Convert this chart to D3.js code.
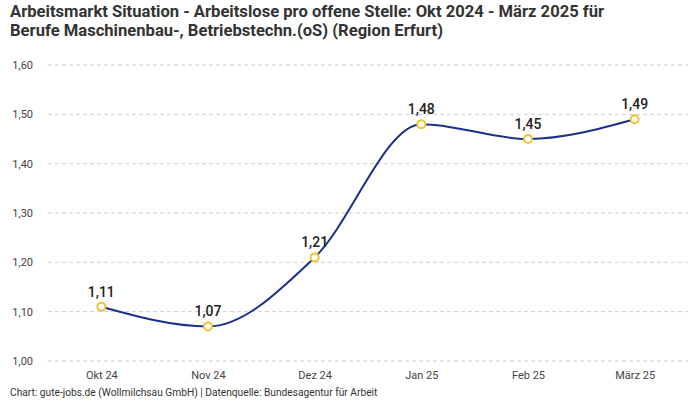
<!DOCTYPE html>
<html>
<head>
<meta charset="utf-8">
<script src="https://cdn.jsdelivr.net/npm/d3@7"></script>
<style>
  body { margin: 0; background: #fff; }
  text { font-family: "Roboto", "Noto Sans", sans-serif; }
</style>
</head>
<body>
<div id="plot"></div>
<script>
// Data
const months = ["Okt 24", "Nov 24", "Dez 24", "Jan 25", "Feb 25", "März 25"];
const values = [1.11, 1.07, 1.21, 1.48, 1.45, 1.49];
const yTicks = [1.00, 1.10, 1.20, 1.30, 1.40, 1.50, 1.60];

const titleLines = [
  "Arbeitsmarkt Situation - Arbeitslose pro offene Stelle: Okt 2024 - März 2025 für",
  "Berufe Maschinenbau-, Betriebstechn.(oS) (Region Erfurt)"
];
const footer = "Chart: gute-jobs.de (Wollmilchsau GmbH) | Datenquelle: Bundesagentur für Arbeit";

// Parameters
const svg_w = 700;
const svg_h = 400;
const margin = {top: 65, right: 12, bottom: 39, left: 48};

const fmt = v => d3.format(".2f")(v).replace(".", ",");

const svg = d3.select("div#plot")
  .append("svg")
    .attr("width", svg_w)
    .attr("height", svg_h);

svg.append("rect")
    .attr("width", svg_w)
    .attr("height", svg_h)
    .attr("fill", "#fff");

const xScale = d3.scalePoint()
    .domain(months)
    .range([margin.left, svg_w - margin.right])
    .padding(0.5);

const yScale = d3.scaleLinear()
    .domain([1.0, 1.6])
    .range([svg_h - margin.bottom, margin.top]);

// Title
svg.append("g").selectAll("text")
  .data(titleLines)
  .join("text")
    .attr("x", 10)
    .attr("y", (d, i) => 17 + i * 19)
    .style("font-size", "16.6px")
    .style("font-weight", "bold")
    .attr("fill", "#333")
    .text(d => d);

// Grid lines
svg.append("g").selectAll("line")
  .data(yTicks)
  .join("line")
    .attr("x1", margin.left)
    .attr("x2", svg_w - margin.right)
    .attr("y1", d => yScale(d))
    .attr("y2", d => yScale(d))
    .attr("stroke", "#cfcfcf")
    .attr("stroke-dasharray", "4,3");

// Y axis
const yAxis = d3.axisLeft(yScale)
    .tickValues(yTicks)
    .tickFormat(fmt)
    .tickSize(0)
    .tickPadding(15);

const gy = svg.append("g")
    .attr("transform", `translate(${margin.left}, 0)`)
    .call(yAxis);
gy.select(".domain").remove();
gy.selectAll("text")
    .style("font-size", "11px")
    .attr("fill", "#444");

// X axis
const xAxis = d3.axisBottom(xScale)
    .tickSize(0)
    .tickPadding(10);

const gx = svg.append("g")
    .attr("transform", `translate(0, ${svg_h - margin.bottom})`)
    .call(xAxis);
gx.select(".domain").remove();
gx.selectAll("text")
    .style("font-size", "11px")
    .attr("fill", "#444");

// Line
const line = d3.line()
    .x((d, i) => xScale(months[i]))
    .y(d => yScale(d))
    .curve(d3.curveMonotoneX);

svg.append("path")
    .datum(values)
    .attr("d", line)
    .attr("fill", "none")
    .attr("stroke", "#1b2f8e")
    .attr("stroke-width", 2);

// Points
svg.append("g").selectAll("circle")
  .data(values)
  .join("circle")
    .attr("cx", (d, i) => xScale(months[i]))
    .attr("cy", d => yScale(d))
    .attr("r", 4)
    .attr("fill", "#fff")
    .attr("stroke", "#f7c12a")
    .attr("stroke-width", 2);

// Value labels
svg.append("g").selectAll("text")
  .data(values)
  .join("text")
    .attr("x", (d, i) => xScale(months[i]))
    .attr("y", d => yScale(d) - 10)
    .attr("text-anchor", "middle")
    .style("font-size", "14px")
    .style("font-weight", "500")
    .attr("fill", "#222")
    .text(fmt);

// Footer
svg.append("text")
    .attr("x", 10)
    .attr("y", 396)
    .style("font-size", "10.2px")
    .attr("fill", "#333")
    .text(footer);
</script>
</body>
</html>
